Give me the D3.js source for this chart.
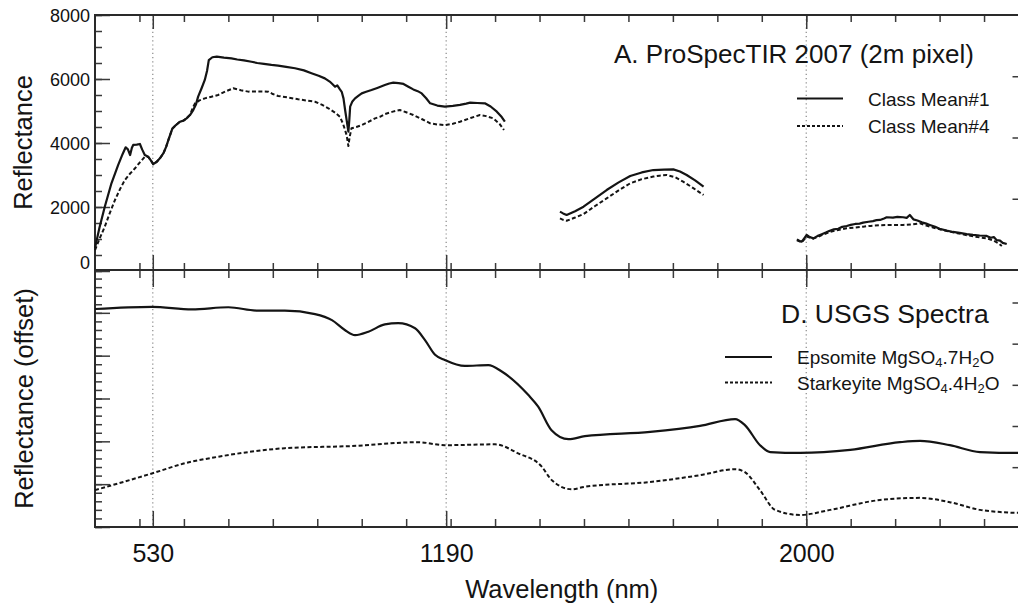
<!DOCTYPE html>
<html>
<head>
<meta charset="utf-8">
<script src="https://cdn.jsdelivr.net/npm/d3@7/dist/d3.min.js"></script>
<style>
  html, body { margin: 0; padding: 0; background: #fff; }
  svg { display: block; font-family: "Liberation Sans", Arial, Helvetica, sans-serif; }
  .tick line { stroke: #3a3a3a; stroke-width: 1.5; }
  .tick text { fill: #111; }
</style>
</head>
<body>
<svg id="chart" width="1018" height="613"></svg>
<script>
// ---- Panel A: ProSpecTIR 2007 class mean spectra, [wavelength nm, reflectance] ----
const mean1Vnir = [[400,720],[410,1350],[422,2010],[437,2740],[452,3310],[462,3650],[469,3865],[474,3800],[479,3625],[483,3850],[486,3940],[494,3950],[501,3970],[506,3800],[512,3625],[520,3570],[526,3450],[531,3340],[539,3415],[546,3520],[554,3680],[560,3880],[565,4090],[574,4450],[582,4560],[591,4665],[599,4700],[606,4770],[614,4880],[621,5030],[627,5200],[632,5450],[640,5720],[647,5970],[652,6250],[656,6590],[664,6680],[674,6700],[690,6670],[707,6645],[720,6610],[735,6580],[752,6540],[765,6500],[780,6470],[797,6440],[812,6420],[830,6380],[850,6335],[870,6270],[887,6180],[903,6100],[917,6020],[928,5920],[935,5830],[940,5760],[945,5800],[951,5675],[955,5600],[959,5395],[963,5000],[966,4720],[970,4355],[972,4700],[974,5135],[979,5300],[985,5395],[993,5480],[1000,5550],[1010,5600],[1022,5655],[1035,5720],[1052,5810],[1062,5860],[1071,5885],[1083,5870],[1094,5845],[1105,5760],[1116,5675],[1126,5620],[1135,5550],[1145,5400],[1154,5240],[1170,5170],[1187,5135],[1205,5160],[1221,5190],[1235,5230],[1244,5260],[1260,5250],[1277,5240],[1290,5140],[1304,4980],[1315,4810],[1322,4665]];
const mean1Swir1 = [[1446,1855],[1453,1800],[1461,1750],[1480,1870],[1499,2010],[1525,2270],[1551,2530],[1578,2770],[1604,2970],[1630,3080],[1656,3155],[1680,3170],[1701,3175],[1716,3110],[1731,3000],[1750,2830],[1769,2635]];
const mean1Swir2 = [[1979,990],[1985,940],[1990,917],[1995,1010],[2001,1125],[2008,1060],[2016,1020],[2025,1090],[2035,1150],[2044,1200],[2053,1260],[2062,1300],[2072,1320],[2081,1380],[2091,1405],[2100,1440],[2110,1470],[2120,1480],[2128,1510],[2140,1540],[2150,1560],[2158,1590],[2166,1595],[2175,1640],[2181,1680],[2195,1670],[2205,1690],[2218,1680],[2226,1660],[2233,1750],[2241,1615],[2250,1580],[2260,1520],[2270,1480],[2278,1440],[2290,1380],[2300,1320],[2316,1260],[2330,1220],[2345,1190],[2361,1155],[2375,1130],[2390,1110],[2406,1095],[2415,1040],[2422,1060],[2428,970],[2436,950],[2442,880],[2451,845]];

const mean4Vnir = [[400,656],[410,1000],[422,1385],[433,1800],[445,2220],[456,2550],[467,2840],[478,3030],[490,3210],[500,3380],[512,3570],[520,3560],[526,3450],[531,3340],[539,3415],[546,3520],[554,3680],[560,3880],[565,4090],[574,4450],[582,4560],[591,4665],[599,4700],[606,4770],[614,4880],[620,5100],[625,5240],[635,5330],[647,5395],[660,5440],[677,5500],[695,5620],[711,5710],[728,5650],[745,5605],[770,5610],[790,5605],[800,5530],[812,5470],[835,5420],[857,5365],[875,5330],[895,5290],[910,5200],[925,5085],[940,4950],[951,4820],[958,4600],[966,4250],[970,3905],[973,4200],[977,4460],[988,4500],[1000,4560],[1015,4660],[1030,4770],[1041,4820],[1052,4905],[1070,4980],[1086,5030],[1100,4960],[1116,4875],[1135,4750],[1154,4615],[1170,4580],[1187,4560],[1205,4600],[1221,4665],[1245,4780],[1266,4875],[1280,4840],[1296,4770],[1310,4600],[1320,4405]];
const mean4Swir1 = [[1446,1645],[1453,1600],[1461,1570],[1480,1670],[1499,1780],[1525,2030],[1551,2270],[1578,2520],[1604,2740],[1630,2870],[1656,2950],[1670,2980],[1686,3000],[1705,2930],[1723,2790],[1745,2600],[1769,2375]];
const mean4Swir2 = [[1979,960],[1990,900],[2001,1080],[2016,1010],[2035,1120],[2053,1220],[2072,1280],[2091,1335],[2110,1360],[2128,1385],[2145,1410],[2166,1430],[2190,1440],[2218,1440],[2240,1460],[2256,1490],[2270,1420],[2285,1360],[2301,1300],[2320,1240],[2340,1180],[2361,1120],[2385,1060],[2406,1020],[2420,960],[2432,870],[2440,780]];

// ---- Panel D: USGS library spectra (offset reflectance units) ----
const epsomite = [[400,5.09],[528,5.14],[618,5.08],[700,5.13],[767,5.05],[827,5.05],[895,4.97],[933,4.83],[962,4.60],[985,4.48],[1015,4.56],[1052,4.73],[1082,4.76],[1120,4.64],[1142,4.37],[1165,4.02],[1187,3.90],[1232,3.76],[1285,3.78],[1315,3.63],[1375,3.08],[1397,2.81],[1427,2.26],[1465,2.05],[1502,2.12],[1649,2.22],[1761,2.36],[1840,2.52],[1862,2.38],[1896,1.91],[1919,1.75],[1986,1.73],[2099,1.80],[2211,1.98],[2256,2.01],[2323,1.91],[2391,1.75],[2477,1.73],[2500,1.73]];
const starkeyite = [[400,0.86],[528,1.25],[603,1.49],[677,1.64],[753,1.76],[827,1.84],[978,1.89],[1127,1.98],[1187,1.91],[1300,1.93],[1352,1.72],[1405,1.41],[1427,1.10],[1472,0.88],[1502,0.94],[1649,1.05],[1761,1.21],[1840,1.35],[1862,1.28],[1896,0.86],[1930,0.40],[1986,0.28],[2054,0.40],[2166,0.63],[2256,0.68],[2323,0.58],[2391,0.40],[2436,0.35],[2477,0.33],[2500,0.33]];

// ---- Axis ticks and labels ----
const xMajorTicks = [530, 1190, 2000];
const xMinorTicks = d3.range(500, 2500, 100);
const yTopMajorTicks = [0, 2000, 4000, 6000, 8000];
const yTopMinorTicks = d3.range(0, 8001, 500);
const yBotMajorTicks = [0, 1, 2, 3, 4, 5, 6];
const yBotMinorTicks = d3.range(0, 6.001, 0.2);
const rightTopTicks = [1, 2, 3];
const rightBotTicks = [2, 3, 4, 5, 6];

const titleTop = "A. ProSpecTIR 2007 (2m pixel)";
const titleBot = "D. USGS Spectra";
const legendTop = ["Class Mean#1", "Class Mean#4"];

// ---- Layout ----
const padL = 95, padR = 1028.5, frameTop = 15, frameMid = 270, frameBot = 527;
const svg = d3.select("#chart");

const x = d3.scaleLinear().domain([400, 2500]).range([padL, padR]);
const yTop = d3.scaleLinear().domain([0, 8000]).range([frameMid + 1, frameTop]);
const yBot = d3.scaleLinear().domain([0, 6]).range([frameBot, frameMid]);
const yRightTop = d3.scaleLinear().domain([0, 4]).range([260, frameTop]);
const yRightBot = d3.scaleLinear().domain([0, 6]).range([549.5, 302.5]);

const DASH = "4,2.4";
const INK = "#141414";

// dotted reference wavelengths through both panels
svg.append("g").selectAll("line").data(xMajorTicks).join("line")
  .attr("x1", d => x(d)).attr("x2", d => x(d))
  .attr("y1", frameTop).attr("y2", frameBot)
  .attr("stroke", "#8a8a8a").attr("stroke-width", 1.2)
  .attr("stroke-dasharray", "1.2,3");

// helper to add a tick-only axis
function tickAxis(axis, tx, ty) {
  const g = svg.append("g").attr("transform", `translate(${tx},${ty})`).call(axis);
  g.select(".domain").remove();
  return g;
}

// x ticks on every horizontal border
tickAxis(d3.axisTop(x).tickValues(xMinorTicks).tickSize(-7).tickFormat(""), 0, frameTop);
tickAxis(d3.axisTop(x).tickValues(xMajorTicks).tickSize(-14).tickFormat(""), 0, frameTop);
tickAxis(d3.axisBottom(x).tickValues(xMinorTicks).tickSize(-7).tickFormat(""), 0, frameMid);
tickAxis(d3.axisBottom(x).tickValues(xMajorTicks).tickSize(-15).tickFormat(""), 0, frameMid);
tickAxis(d3.axisTop(x).tickValues(xMinorTicks).tickSize(-8).tickFormat(""), 0, frameMid);
tickAxis(d3.axisTop(x).tickValues(xMajorTicks).tickSize(-17).tickFormat(""), 0, frameMid);
tickAxis(d3.axisBottom(x).tickValues(xMinorTicks).tickSize(-8).tickFormat(""), 0, frameBot);
const xLab = tickAxis(d3.axisBottom(x).tickValues(xMajorTicks).tickSize(-16).tickPadding(17).tickFormat(d3.format("d")), 0, frameBot);
xLab.selectAll("text").attr("font-size", 25).attr("font-family", null);

// left y ticks, top panel
tickAxis(d3.axisLeft(yTop).tickValues(yTopMinorTicks).tickSize(-7).tickFormat(""), padL, 0);
const yTopLab = tickAxis(d3.axisLeft(yTop).tickValues(yTopMajorTicks).tickSize(-15).tickPadding(5).tickFormat(d3.format("d")), padL, 0);
yTopLab.selectAll("text").attr("font-size", 18).attr("font-family", null)
  .attr("dy", d => d === 0 ? "-0.15em" : "0.34em");

// left y ticks, bottom panel
tickAxis(d3.axisLeft(yBot).tickValues(yBotMinorTicks).tickSize(-7).tickFormat(""), padL, 0);
tickAxis(d3.axisLeft(yBot).tickValues(yBotMajorTicks).tickSize(-15).tickFormat(""), padL, 0);

// right-hand ticks
tickAxis(d3.axisRight(yRightTop).tickValues(rightTopTicks).tickSize(-16).tickFormat(""), padR, 0);
tickAxis(d3.axisRight(yRightBot).tickValues(rightBotTicks).tickSize(-16).tickFormat(""), padR, 0);

// frame
const frame = svg.append("g").attr("stroke", "#2a2a2a").attr("stroke-width", 2).attr("fill", "none");
frame.append("rect").attr("x", padL).attr("y", frameTop).attr("width", padR - padL).attr("height", frameBot - frameTop);
frame.append("line").attr("x1", padL).attr("x2", padR).attr("y1", frameMid).attr("y2", frameMid);

// spectra
const lineTop = d3.line().x(d => x(d[0])).y(d => yTop(d[1]));
const lineBot = d3.line().x(d => x(d[0])).y(d => yBot(d[1])).curve(d3.curveMonotoneX);

const plotG = svg.append("g").attr("fill", "none").attr("stroke", INK).attr("stroke-linejoin", "round");
[mean4Vnir, mean4Swir1, mean4Swir2].forEach(seg =>
  plotG.append("path").datum(seg).attr("d", lineTop).attr("stroke-width", 2).attr("stroke-dasharray", DASH));
[mean1Vnir, mean1Swir1, mean1Swir2].forEach(seg =>
  plotG.append("path").datum(seg).attr("d", lineTop).attr("stroke-width", 2.2));
plotG.append("path").datum(starkeyite).attr("d", lineBot).attr("stroke-width", 2).attr("stroke-dasharray", DASH);
plotG.append("path").datum(epsomite).attr("d", lineBot).attr("stroke-width", 2.2);

// axis titles
const txt = svg.append("g").attr("fill", INK);
txt.append("text").attr("x", (padL + padR) / 2).attr("y", 598)
  .attr("text-anchor", "middle").attr("font-size", 25.5).text("Wavelength (nm)");
txt.append("text").attr("transform", `translate(32,${(frameTop + frameMid) / 2}) rotate(-90)`)
  .attr("text-anchor", "middle").attr("font-size", 25.5).text("Reflectance");
txt.append("text").attr("transform", `translate(33,${(frameMid + frameBot) / 2}) rotate(-90)`)
  .attr("text-anchor", "middle").attr("font-size", 25.5).text("Reflectance (offset)");

// panel titles
txt.append("text").attr("x", 614).attr("y", 63).attr("font-size", 26).text(titleTop);
txt.append("text").attr("x", 781).attr("y", 323).attr("font-size", 26.5).text(titleBot);

// legend, panel A
const legA = svg.append("g");
legendTop.forEach((name, i) => {
  const yy = 98.5 + i * 27.5;
  legA.append("line").attr("x1", 797).attr("x2", 843).attr("y1", yy).attr("y2", yy)
    .attr("stroke", INK).attr("stroke-width", 2.2)
    .attr("stroke-dasharray", i === 1 ? "3,2" : null);
  legA.append("text").attr("x", 868).attr("y", yy + 7).attr("font-size", 19).attr("fill", INK).text(name);
});

// legend, panel D (chemical formulas with subscripts)
const legendBot = [
  { name: "Epsomite MgSO", a: "4", b: ".7H", c: "2", d: "O", dash: null },
  { name: "Starkeyite MgSO", a: "4", b: ".4H", c: "2", d: "O", dash: "3,2" }
];
const legD = svg.append("g");
legendBot.forEach((e, i) => {
  const yy = 357 + i * 25.5;
  legD.append("line").attr("x1", 725).attr("x2", 772).attr("y1", yy).attr("y2", yy)
    .attr("stroke", INK).attr("stroke-width", 2.2).attr("stroke-dasharray", e.dash);
  const t = legD.append("text").attr("x", 797).attr("y", yy + 7).attr("font-size", 19).attr("fill", INK);
  t.append("tspan").text(e.name);
  t.append("tspan").attr("font-size", 13).attr("dy", 3).text(e.a);
  t.append("tspan").attr("dy", -3).text(e.b);
  t.append("tspan").attr("font-size", 13).attr("dy", 3).text(e.c);
  t.append("tspan").attr("dy", -3).text(e.d);
});
</script>
</body>
</html>
